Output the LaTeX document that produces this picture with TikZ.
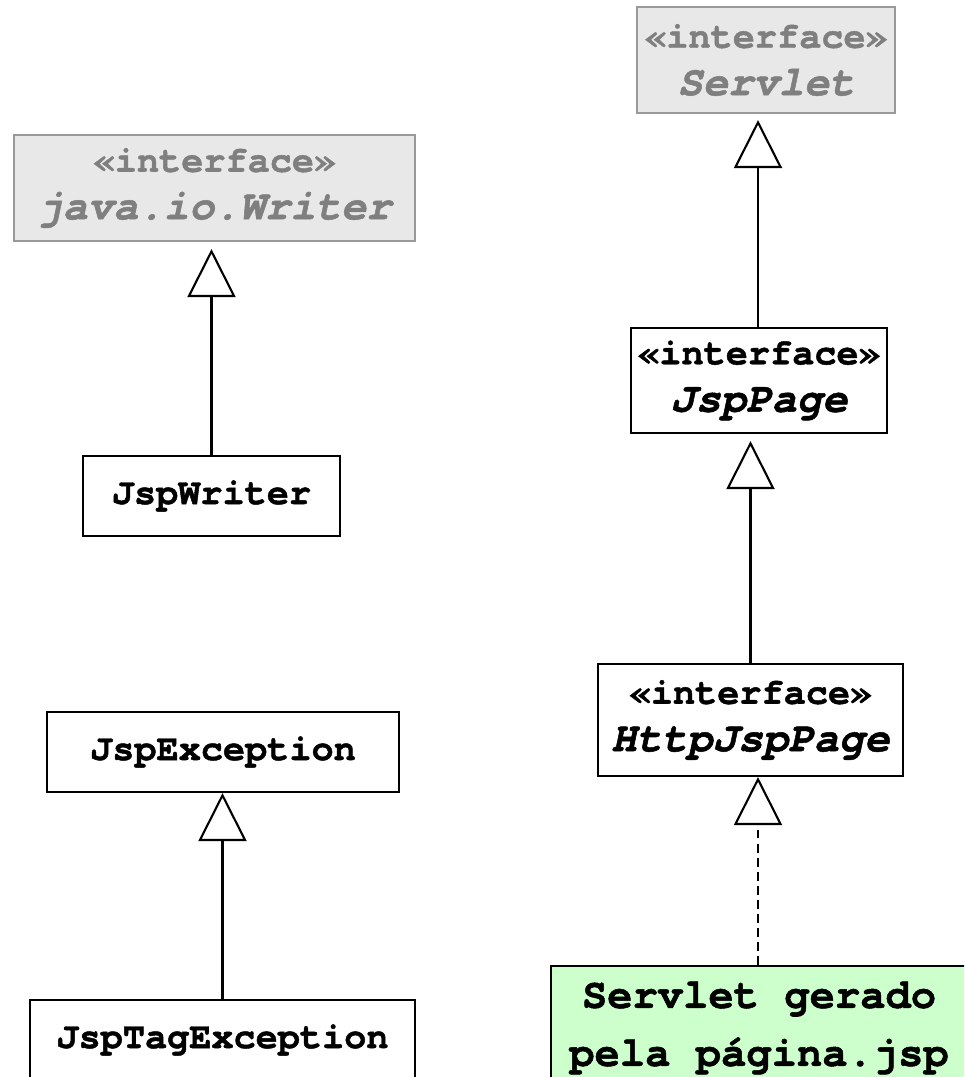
\documentclass[tikz,border=0pt]{standalone}
\usepackage{fontspec}
\newfontfamily\umlfont{texgyrecursor}[Extension=.otf,
  UprightFont=*-regular,BoldFont=*-bold,
  ItalicFont=*-italic,BoldItalicFont=*-bolditalic,
  BoldFeatures={FakeBold=1.2},BoldItalicFeatures={FakeBold=1.2}]
\usepackage{tikz}
\usetikzlibrary{arrows.meta,calc,positioning}
\definecolor{ifacegray}{HTML}{E8E8E8}
\definecolor{ifaceline}{HTML}{999999}
\definecolor{ifacetext}{HTML}{7F7F7F}
\definecolor{jspgreen}{HTML}{CCFFCC}
\newcommand{\stereo}{{\fontsize{21}{27}\selectfont «interface»}}
\newcommand{\iname}[1]{{\fontsize{24}{27}\selectfont\itshape #1}}
\tikzset{
  cls/.style={draw,line width=1.2pt,inner sep=0pt,align=center,
    font=\umlfont\bfseries\fontsize{21}{27}\selectfont},
  extcls/.style={cls,draw=ifaceline,fill=ifacegray,text=ifacetext},
  gencls/.style={cls,fill=jspgreen,font=\umlfont\bfseries\fontsize{24}{33}\selectfont},
  inh/.style={-{Triangle[open,length=0.96cm,width=0.96cm,fill=white]},line width=1.2pt},
  impl/.style={inh,dashed,dash pattern=on 5pt off 3pt}
}

\begin{document}
\begin{tikzpicture}[x=0.02cm,y=-0.02cm]
\useasboundingbox (0,0) rectangle (964,1077);
\clip (0,0) rectangle (964,1077);
% left column
\node[extcls,minimum width=8.02cm,minimum height=2.12cm] (writer) at (214.5,188) {\stereo\\\iname{java.io.Writer}};
\node[cls,minimum width=5.14cm,minimum height=1.6cm] (jspwriter) at (211.5,496) {JspWriter};
\node[cls,minimum width=7.04cm,minimum height=1.6cm] (jspexc) at (223,752) {JspException};
\node[cls,minimum width=7.7cm,minimum height=1.6cm] (jsptagexc) at (222.5,1040) {JspTagException};
% right column
\node[extcls,minimum width=5.16cm,minimum height=2.12cm] (servlet) at (766,60) {\stereo\\\iname{Servlet}};
\node[cls,minimum width=5.12cm,minimum height=2.1cm] (jsppage) at (759,380.5) {\stereo\\\iname{JspPage}};
\node[cls,minimum width=6.1cm,minimum height=2.24cm] (httpjsppage) at (750.5,720) {\stereo\\\iname{HttpJspPage}};
\node[gencls,minimum width=8.32cm,minimum height=2.48cm] (servletjsp) at (759,1028) {Servlet gerado\\pela página.jsp};
% generalizations
\draw[inh,shorten >=0.14cm] (jspwriter.north) -- (jspwriter.north |- writer.south);
\draw[inh] (jsptagexc.north) -- (jsptagexc.north |- jspexc.south);
\draw[inh,shorten >=0.12cm] (jsppage.north -| 758,0) -- (servlet.south -| 758,0);
\draw[inh,shorten >=0.14cm] (httpjsppage.north) -- (httpjsppage.north |- jsppage.south);
\draw[impl] (servletjsp.north -| 758,0) -- (httpjsppage.south -| 758,0);
\end{tikzpicture}
\end{document}
